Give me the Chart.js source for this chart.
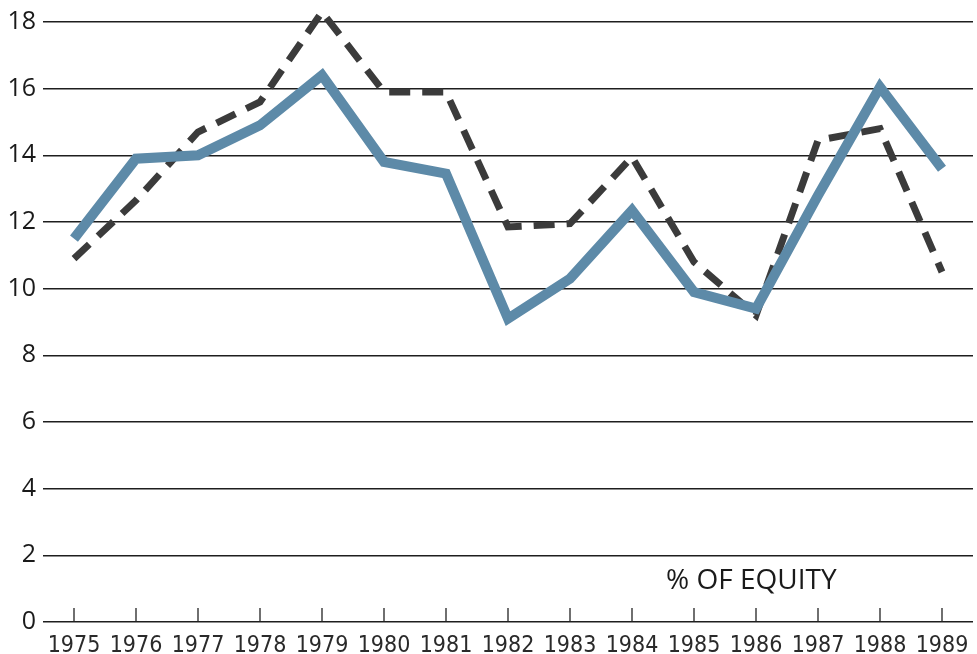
<!DOCTYPE html>
<html>
<head>
<meta charset="utf-8">
<script src="https://cdn.jsdelivr.net/npm/chart.js@4/dist/chart.umd.min.js"></script>
<style>
html,body{margin:0;padding:0;background:#fff;}
#wrap{width:977px;height:654px;position:relative;}
</style>
</head>
<body>
<div id="wrap"><canvas id="c" width="977" height="654"></canvas></div>
<script>
const years = ['1975','1976','1977','1978','1979','1980','1981','1982','1983','1984','1985','1986','1987','1988','1989'];
const solidSeries = [11.5, 13.9, 14.0, 14.9, 16.4, 13.8, 13.45, 9.1, 10.3, 12.35, 9.9, 9.4, 12.8, 16.05, 13.6];
const dashedSeries = [10.9, 12.65, 14.7, 15.6, 18.3, 15.9, 15.9, 11.85, 11.95, 13.95, 10.8, 9.2, 14.45, 14.8, 10.5];
const yTicks = [0, 2, 4, 6, 8, 10, 12, 14, 16, 18];
const unitLabel = '% OF EQUITY';

const FONT = "'Open Sans', 'DejaVu Sans', sans-serif";
const NARROW = "'Liberation Sans Narrow', 'DejaVu Sans Condensed', 'Open Sans', sans-serif";

const overlay = {
  id: 'overlay',
  afterDatasetsDraw(chart) {
    const ctx = chart.ctx;
    const xs = chart.scales.x, ys = chart.scales.y;
    const y0 = ys.getPixelForValue(0);
    ctx.save();
    ctx.strokeStyle = '#222';
    ctx.lineWidth = 1.3;
    years.forEach((yr, i) => {
      const x = xs.getPixelForValue(i);
      ctx.beginPath();
      ctx.moveTo(x, y0);
      ctx.lineTo(x, y0 - 14);
      ctx.stroke();
    });
    ctx.fillStyle = '#1a1a1a';
    ctx.font = "28px " + FONT;
    ctx.textAlign = 'left';
    ctx.textBaseline = 'middle';
    ctx.fillText(unitLabel, xs.getPixelForValue(9.55), ys.getPixelForValue(1.23));
    ctx.restore();
  }
};

new Chart(document.getElementById('c'), {
  type: 'line',
  data: {
    labels: years,
    datasets: [
      {
        label: 'solid',
        data: solidSeries,
        borderColor: '#5d8aa8',
        borderWidth: 10,
        pointRadius: 0,
        tension: 0,
        fill: false,
        clip: false,
        borderJoinStyle: 'miter',
        order: 0
      },
      {
        label: 'dashed',
        data: dashedSeries,
        borderColor: '#3b3b3b',
        borderWidth: 7,
        borderDash: [21, 12],
        pointRadius: 0,
        tension: 0,
        fill: false,
        clip: false,
        borderJoinStyle: 'miter',
        order: 1
      }
    ]
  },
  options: {
    responsive: false,
    animation: false,
    devicePixelRatio: 1,
    layout: { padding: { top: 10, right: 4, left: 0, bottom: 0 } },
    plugins: { legend: { display: false }, tooltip: { enabled: false } },
    scales: {
      x: {
        type: 'category',
        offset: true,
        grid: { display: false },
        border: { display: false },
        ticks: {
          color: '#2a2a2a',
          font: { family: NARROW, size: 23 },
          padding: 2,
          maxRotation: 0,
          autoSkip: false
        },
        afterFit(s) { s.height = 32; }
      },
      y: {
        min: 0,
        max: 18,
        afterBuildTicks(s) { s.ticks = yTicks.map(v => ({ value: v })); },
        grid: { color: '#1e1e1e', lineWidth: 1.4, drawTicks: false },
        border: { display: false },
        ticks: {
          color: '#1a1a1a',
          font: { family: FONT, size: 25 },
          padding: 7
        },
        afterFit(s) { s.width = 43; }
      }
    }
  },
  plugins: [overlay]
});
</script>
</body>
</html>
